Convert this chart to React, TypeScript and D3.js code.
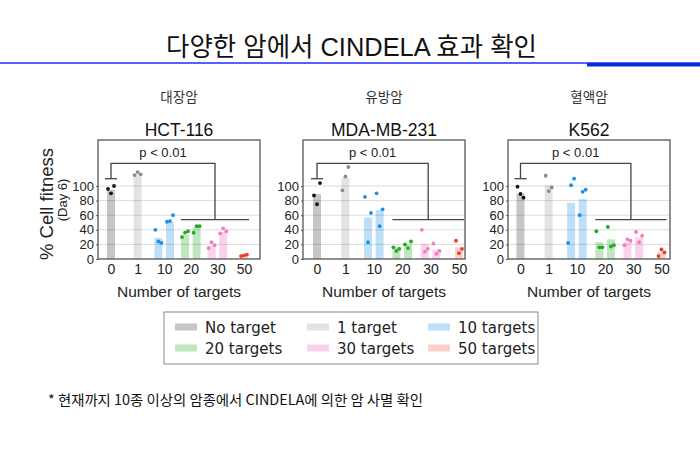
import React, { useRef, useEffect } from "react"
import * as d3 from "d3"

const groups = ["0", "1", "10", "20", "30", "50"]
// group of each bar, and its dodge side inside the group
const barGroups = ["0", "1", "10", "10", "20", "20", "30", "30", "50"]
const barDodge = [0, 0, -1, 1, -1, 1, -1, 1, 0]

const cancerTypes = ["대장암", "유방암", "혈액암"]
const cellLines = ["HCT-116", "MDA-MB-231", "K562"]

const hctBars = [95, 115, 29, 51, 33, 43, 18, 37, 4]
const hctDots = [[96, 90, 100], [115, 119, 116], [40, 24, 22], [51, 52, 60], [30, 36, 38], [36, 45, 45], [15, 23, 19], [35, 42, 38], [4, 5, 6]]

const mdaBars = [89, 111, 57, 67, 16, 20, 21, 13, 16]
const mdaDots = [[87, 75, 104], [94, 113, 126], [85, 23, 63], [90, 45, 68], [16, 11, 14], [20, 15, 24], [40, 10, 14], [21, 7, 11], [25, 8, 14]]

const k562Bars = [90, 101, 77, 82, 23, 27, 23, 30, 9]
const k562Dots = [[99, 89, 84], [114, 93, 98], [22, 101, 110], [60, 92, 95], [38, 16, 16], [44, 17, 19], [19, 27, 25], [37, 23, 32], [4, 13, 9]]

const panelBars = [hctBars, mdaBars, k562Bars]
const panelDots = [hctDots, mdaDots, k562Dots]

const yTicks = [0, 20, 40, 60, 80, 100]
const gridTicks = [20, 40, 60, 80, 100]

// significance bracket levels (% cell fitness)
const bracketTop = 131
const bracketCap = 110
const bracketBase = 54

const legendLabels = ["No target", "1 target", "10 targets", "20 targets", "30 targets", "50 targets"]

const barFill = ["#c6c6c6", "#e3e3e3", "#bde0f8", "#c0e6c0", "#fbd2eb", "#fcd0c9"]
const dotFill = ["#111111", "#8a8a8a", "#1a8fe6", "#22a822", "#f27cc0", "#ee3b26"]

const PANEL_LEFT = [98, 303, 508]
const PANEL_W = 162
const PANEL_TOP = 140
const PANEL_BOTTOM = 259
// inner x range of the groups, relative to the panel's left edge
const GROUP_START = [13, 14, 12.5]
const GROUP_END = [146, 156, 153.5]
const BAR_W = 8
const DODGE = 5.8
const DOT_JITTER = [-3, 0, 3]

const SANS = "'Liberation Sans', Arial, sans-serif"
const KR = "'Noto Sans CJK KR', sans-serif"

export default function App() {
  const svgRef = useRef<SVGSVGElement>(null)

  useEffect(() => {
    const svg = d3.select(svgRef.current)
    svg.selectAll("*").remove()

    svg.append("rect").attr("width", 700).attr("height", 460).attr("fill", "#fff")

    // Title + rule
    svg.append("text")
      .attr("x", 166).attr("y", 55.5)
      .attr("font-family", `'Liberation Sans', ${KR}`).attr("font-size", 26).attr("fill", "#111")
      .attr("textLength", 371).attr("lengthAdjust", "spacingAndGlyphs")
      .text("다양한 암에서 CINDELA 효과 확인")

    svg.append("line")
      .attr("x1", 0).attr("x2", 700).attr("y1", 63).attr("y2", 63)
      .attr("stroke", "#1f2bff").attr("stroke-width", 1.6)
    svg.append("rect")
      .attr("x", 587).attr("y", 63).attr("width", 113).attr("height", 3.5)
      .attr("fill", "#0a2fd0")

    const y = d3.scaleLinear().domain([0, 163]).range([PANEL_BOTTOM, PANEL_TOP])

    PANEL_LEFT.forEach((left, p) => {
      const x = d3.scalePoint<string>().domain(groups)
        .range([left + GROUP_START[p], left + GROUP_END[p]])
      const cx = left + PANEL_W / 2
      const g = svg.append("g")

      g.append("text")
        .attr("x", cx).attr("y", 101.5).attr("text-anchor", "middle")
        .attr("font-family", KR).attr("font-size", 13.5).attr("fill", "#333")
        .text(cancerTypes[p])

      g.append("text")
        .attr("x", cx).attr("y", 136).attr("text-anchor", "middle")
        .attr("font-family", SANS).attr("font-size", 17.5).attr("fill", "#111")
        .text(cellLines[p])

      const barX = (i: number) => (x(barGroups[i]) as number) + barDodge[i] * DODGE

      // Bars
      g.append("g").selectAll("rect").data(panelBars[p]).join("rect")
        .attr("x", (_d, i) => barX(i) - BAR_W / 2)
        .attr("width", BAR_W)
        .attr("y", (d) => y(d))
        .attr("height", (d) => y(0) - y(d))
        .attr("fill", (_d, i) => barFill[groups.indexOf(barGroups[i])])

      // Grid
      g.append("g").selectAll("line").data(gridTicks).join("line")
        .attr("x1", left).attr("x2", left + PANEL_W)
        .attr("y1", (d) => y(d)).attr("y2", (d) => y(d))
        .attr("stroke", "#000").attr("stroke-opacity", 0.14).attr("stroke-width", 1)

      // Dots
      const dots = panelDots[p].flatMap((vals, i) => vals.map((v, k) => ({ v, i, k })))
      g.append("g").selectAll("circle").data(dots).join("circle")
        .attr("cx", (d) => barX(d.i) + DOT_JITTER[d.k])
        .attr("cy", (d) => y(d.v))
        .attr("r", 1.9)
        .attr("fill", (d) => dotFill[groups.indexOf(barGroups[d.i])])

      // Bracket
      const x0 = x("0") as number
      const baseL = (x("20") as number) - DODGE - BAR_W / 2
      const baseR = (x("50") as number) + BAR_W / 2 + 1
      const mid = (baseL + baseR) / 2
      const br = g.append("g").attr("stroke", "#444").attr("stroke-width", 1.3).attr("fill", "none")
      br.append("path").attr("d", `M${x0},${y(bracketCap)}V${y(bracketTop)}H${mid}V${y(bracketBase)}`)
      br.append("line").attr("x1", x0 - 6).attr("x2", x0 + 6).attr("y1", y(bracketCap)).attr("y2", y(bracketCap))
      br.append("line").attr("x1", baseL).attr("x2", baseR).attr("y1", y(bracketBase)).attr("y2", y(bracketBase))

      g.append("text")
        .attr("x", (x0 + mid) / 2).attr("y", 157).attr("text-anchor", "middle")
        .attr("font-family", SANS).attr("font-size", 13).attr("fill", "#222")
        .text("p < 0.01")

      // Frame
      g.append("rect")
        .attr("x", left).attr("y", PANEL_TOP).attr("width", PANEL_W).attr("height", PANEL_BOTTOM - PANEL_TOP)
        .attr("fill", "none").attr("stroke", "#555").attr("stroke-width", 1.3)

      // Y axis
      g.append("g").attr("transform", `translate(${left},0)`)
        .call(d3.axisLeft(y).tickValues(yTicks).tickSize(2).tickPadding(2))
        .call((a) => a.select(".domain").remove())
        .call((a) => a.selectAll(".tick line").attr("stroke", "#555"))
        .call((a) => a.selectAll("text").attr("fill", "#222").attr("font-size", 13).attr("font-family", SANS))

      // X axis
      g.append("g").attr("transform", `translate(0,${PANEL_BOTTOM})`)
        .call(d3.axisBottom(x).tickSize(0).tickPadding(5))
        .call((a) => a.select(".domain").remove())
        .call((a) => a.selectAll("text").attr("fill", "#222").attr("font-size", 14).attr("font-family", SANS))

      g.append("text")
        .attr("x", cx).attr("y", 297).attr("text-anchor", "middle")
        .attr("font-family", SANS).attr("font-size", 15.5).attr("fill", "#222")
        .text("Number of targets")
    })

    // Y title (first panel only)
    svg.append("text")
      .attr("transform", "translate(53,204) rotate(-90)")
      .attr("text-anchor", "middle")
      .attr("font-family", SANS).attr("font-size", 18.5).attr("fill", "#222")
      .text("% Cell fitness")
    svg.append("text")
      .attr("transform", "translate(66.5,200) rotate(-90)")
      .attr("text-anchor", "middle")
      .attr("font-family", SANS).attr("font-size", 13).attr("fill", "#222")
      .text("(Day 6)")

    // Legend
    const lg = svg.append("g")
    lg.append("rect")
      .attr("x", 164).attr("y", 312).attr("width", 374).attr("height", 52)
      .attr("fill", "#fff").attr("stroke", "#888").attr("stroke-width", 1)
    const colX = [175, 307, 428]
    const rowY = [327, 348]
    legendLabels.forEach((label, i) => {
      const lx = colX[i % 3]
      const ly = rowY[Math.floor(i / 3)]
      lg.append("rect")
        .attr("x", lx).attr("y", ly - 3.5).attr("width", 22).attr("height", 7)
        .attr("fill", barFill[i])
      lg.append("text")
        .attr("x", lx + 30).attr("y", ly + 5.5)
        .attr("font-family", "'DejaVu Sans', Verdana, sans-serif").attr("font-size", 15).attr("fill", "#222")
        .text(label)
    })

    // Footnote
    svg.append("text")
      .attr("x", 48).attr("y", 405)
      .attr("font-family", KR).attr("font-size", 14).attr("fill", "#111")
      .attr("textLength", 375).attr("lengthAdjust", "spacingAndGlyphs")
      .text("* 현재까지 10종 이상의 암종에서 CINDELA에 의한 암 사멸 확인")
  }, [])

  return (
    <svg
      ref={svgRef}
      width={700}
      height={460}
      style={{ position: "absolute", left: 0, top: 0, display: "block" }}
    />
  )
}
